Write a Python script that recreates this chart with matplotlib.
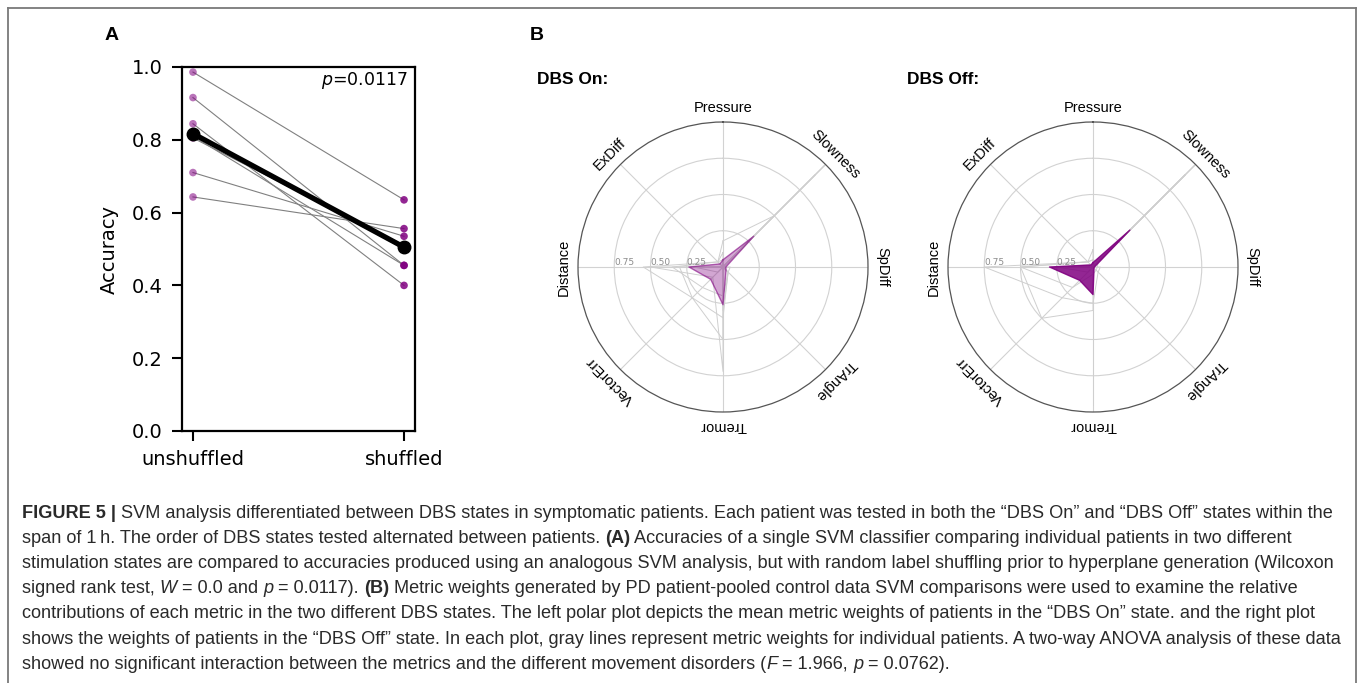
import matplotlib
matplotlib.use('Agg')
import matplotlib.pyplot as plt
import numpy as np
from matplotlib.lines import Line2D
from matplotlib.font_manager import FontProperties

# --- panel A data: accuracy per patient (8 patients)
unshuffled = [0.986, 0.916, 0.844, 0.82, 0.81, 0.805, 0.71, 0.643]
shuffled = [0.635, 0.455, 0.40, 0.50, 0.455, 0.51, 0.535, 0.556]
mean_acc = [0.817, 0.505]
conditions = ['unshuffled', 'shuffled']

# --- panel B data: metric weights
metrics = ['Pressure', 'Slowness', 'SpDiff', 'TrAngle', 'Tremor', 'VectorErr', 'Distance', 'ExDiff']
mean_on = [0.05, 0.30, 0.02, 0.03, 0.26, 0.12, 0.235, 0.03]
mean_off = [0.03, 0.36, 0.01, 0.01, 0.19, 0.13, 0.30, 0.02]
patients_on = [
    [0.0, 1.0, 0.0, 0.0, 0.0, 0.0, 0.0, 0.0],
    [0.0, 0.9, 0.0, 0.0, 0.0, 0.0, 0.0, 0.0],
    [0.18, 0.5, 0.0, 0.05, 0.3, 0.0, 0.0, 0.05],
    [0.0, 0.0, 0.0, 0.0, 0.72, 0.1, 0.5, 0.0],
    [0.0, 0.0, 0.0, 0.0, 0.5, 0.3, 0.3, 0.0],
    [0.1, 0.0, 0.05, 0.05, 0.35, 0.3, 0.55, 0.05],
    [0.05, 0.0, 0.0, 0.05, 0.2, 0.2, 0.35, 0.05],
    [0.05, 0.0, 0.0, 0.0, 0.0, 0.05, 0.2, 0.0],
]
patients_off = [
    [0.0, 1.0, 0.0, 0.0, 0.0, 0.0, 0.0, 0.0],
    [0.0, 0.9, 0.0, 0.0, 0.0, 0.0, 0.0, 0.0],
    [0.0, 0.9, 0.0, 0.0, 0.0, 0.0, 0.1, 0.0],
    [0.0, 0.0, 0.0, 0.0, 0.95, 0.0, 0.3, 0.0],
    [0.12, 0.0, 0.0, 0.0, 0.3, 0.5, 0.5, 0.05],
    [0.05, 0.0, 0.05, 0.05, 0.25, 0.3, 0.75, 0.05],
    [0.05, 0.05, 0.03, 0.03, 0.05, 0.2, 0.5, 0.05],
    [0.02, 0.03, 0.0, 0.0, 0.0, 0.05, 0.25, 0.02],
]
ring_values = [0.25, 0.5, 0.75]

caption = [
    [("FIGURE 5 | ", 'bold', 'normal'),
     ("SVM analysis differentiated between DBS states in symptomatic patients. Each patient was tested in both the \u201cDBS On\u201d and \u201cDBS Off\u201d states within the", 'normal', 'normal')],
    [("span of 1\u2009h. The order of DBS states tested alternated between patients. ", 'normal', 'normal'),
     ("(A)", 'bold', 'normal'),
     (" Accuracies of a single SVM classifier comparing individual patients in two different", 'normal', 'normal')],
    [("stimulation states are compared to accuracies produced using an analogous SVM analysis, but with random label shuffling prior to hyperplane generation (Wilcoxon", 'normal', 'normal')],
    [("signed rank test, ", 'normal', 'normal'), ("W", 'normal', 'italic'),
     (" = 0.0 and ", 'normal', 'normal'), ("p", 'normal', 'italic'),
     (" = 0.0117). ", 'normal', 'normal'), ("(B)", 'bold', 'normal'),
     (" Metric weights generated by PD patient-pooled control data SVM comparisons were used to examine the relative", 'normal', 'normal')],
    [("contributions of each metric in the two different DBS states. The left polar plot depicts the mean metric weights of patients in the \u201cDBS On\u201d state. and the right plot", 'normal', 'normal')],
    [("shows the weights of patients in the \u201cDBS Off\u201d state. In each plot, gray lines represent metric weights for individual patients. A two-way ANOVA analysis of these data", 'normal', 'normal')],
    [("showed no significant interaction between the metrics and the different movement disorders (", 'normal', 'normal'),
     ("F", 'normal', 'italic'), (" = 1.966, ", 'normal', 'normal'), ("p", 'normal', 'italic'),
     (" = 0.0762).", 'normal', 'normal')],
]

W, H = 1358, 683
fig = plt.figure(figsize=(W / 100, H / 100), dpi=100)

# frame around the figure (open at the bottom)
frame_col = '#7a7a7a'
fig.add_artist(Line2D([8 / W, 8 / W], [0, 1 - 8 / H], color=frame_col, lw=1.3))
fig.add_artist(Line2D([1356 / W, 1356 / W], [0, 1 - 8 / H], color=frame_col, lw=1.3))
fig.add_artist(Line2D([8 / W, 1356 / W], [1 - 8 / H, 1 - 8 / H], color=frame_col, lw=1.3))

# ---------------- panel A
axA = fig.add_axes([182 / W, 1 - 431 / H, 233 / W, 364 / H])
for u, s in zip(unshuffled, shuffled):
    axA.plot([0, 1], [u, s], color='gray', lw=0.8, zorder=1)
axA.scatter(np.zeros(len(unshuffled)), unshuffled, s=30, color='purple', alpha=0.55,
            edgecolors='none', zorder=2)
axA.scatter(np.ones(len(shuffled)), shuffled, s=30, color='purple', alpha=0.85,
            edgecolors='none', zorder=2)
axA.plot([0, 1], mean_acc, color='black', lw=3.8, marker='o', ms=9, zorder=3)
axA.set_xlim(-0.052, 1.052)
axA.set_ylim(0, 1.0)
axA.set_xticks([0, 1])
axA.set_xticklabels(conditions)
axA.set_yticks([0, 0.2, 0.4, 0.6, 0.8, 1.0])
axA.set_ylabel('Accuracy', fontsize=14, labelpad=9)
axA.tick_params(labelsize=14, width=1.5, length=7, pad=7)
for sp in axA.spines.values():
    sp.set_linewidth(1.6)
axA.text(0.97, 0.962, '$p$=0.0117', transform=axA.transAxes, ha='right', va='center', fontsize=12.5)

fig.text(105 / W, 1 - 35 / H, 'A', fontsize=14, fontweight='bold', family='Liberation Sans', va='center')
fig.text(530 / W, 1 - 35 / H, 'B', fontsize=14, fontweight='bold', family='Liberation Sans', va='center')


# ---------------- panel B
def radar(left, title, mean, patients, fill_alpha, edge_alpha):
    ax = fig.add_axes([left / W, 1 - 412 / H, 290 / W, 290 / H], projection='polar')
    ax.set_theta_zero_location('N')
    ax.set_theta_direction(-1)
    angles = np.arange(len(metrics)) * 2 * np.pi / len(metrics)
    closed = np.append(angles, angles[0])
    for row in patients:
        ax.plot(closed, np.append(row, row[0]), color='#cfcfcf', lw=0.7, zorder=2)
    ax.fill(closed, np.append(mean, mean[0]), color='purple', alpha=fill_alpha, lw=0, zorder=3)
    ax.plot(closed, np.append(mean, mean[0]), color='purple', alpha=edge_alpha, lw=1.0, zorder=4)
    ax.set_ylim(0, 1)
    ax.set_yticks(ring_values)
    ax.set_yticklabels([])
    ax.set_xticks(angles)
    ax.set_xticklabels([])
    ax.grid(color='#d2d2d2', lw=0.8)
    ax.spines['polar'].set_color('#555555')
    ax.spines['polar'].set_linewidth(0.9)
    for a, lab in zip(angles, metrics):
        ax.text(a, 1.1, lab, rotation=-np.degrees(a), rotation_mode='anchor',
                ha='center', va='center', fontsize=10.5, family='Liberation Sans')
    for r in ring_values:
        ax.text(3 * np.pi / 2, r, f'{r:.2f}', ha='left', va='bottom', fontsize=6.5, color='#8c8c8c')
    fig.text((left - 41) / W, 1 - 79 / H, title, fontsize=12.5, fontweight='bold',
             family='Liberation Sans', va='center')
    return ax


radar(578, 'DBS On:', mean_on, patients_on, 0.35, 0.6)
radar(948, 'DBS Off:', mean_off, patients_off, 0.85, 0.9)

# ---------------- caption
renderer = fig.canvas.get_renderer()
cap_family = ['Liberation Sans Narrow', 'Liberation Sans']


def seg_width(s, size, weight, style):
    prop = FontProperties(family=cap_family, size=size, weight=weight, style=style)
    w1 = renderer.get_text_width_height_descent('x' + s + 'x', prop, ismath=False)[0]
    w0 = renderer.get_text_width_height_descent('xx', prop, ismath=False)[0]
    return w1 - w0


base = 10
line1_w = sum(seg_width(t, base, wt, st) for t, wt, st in caption[0])
cap_size = base * 1313 / line1_w

for i, line in enumerate(caption):
    x = 22
    y = 518 + i * 25.1
    for t, wt, st in line:
        fig.text(x / W, 1 - y / H, t, fontsize=cap_size, fontweight=wt, fontstyle=st,
                 family=cap_family, color='#2a2a2a', va='baseline', ha='left')
        x += seg_width(t, cap_size, wt, st)

fig.savefig('out.png', dpi=100)
